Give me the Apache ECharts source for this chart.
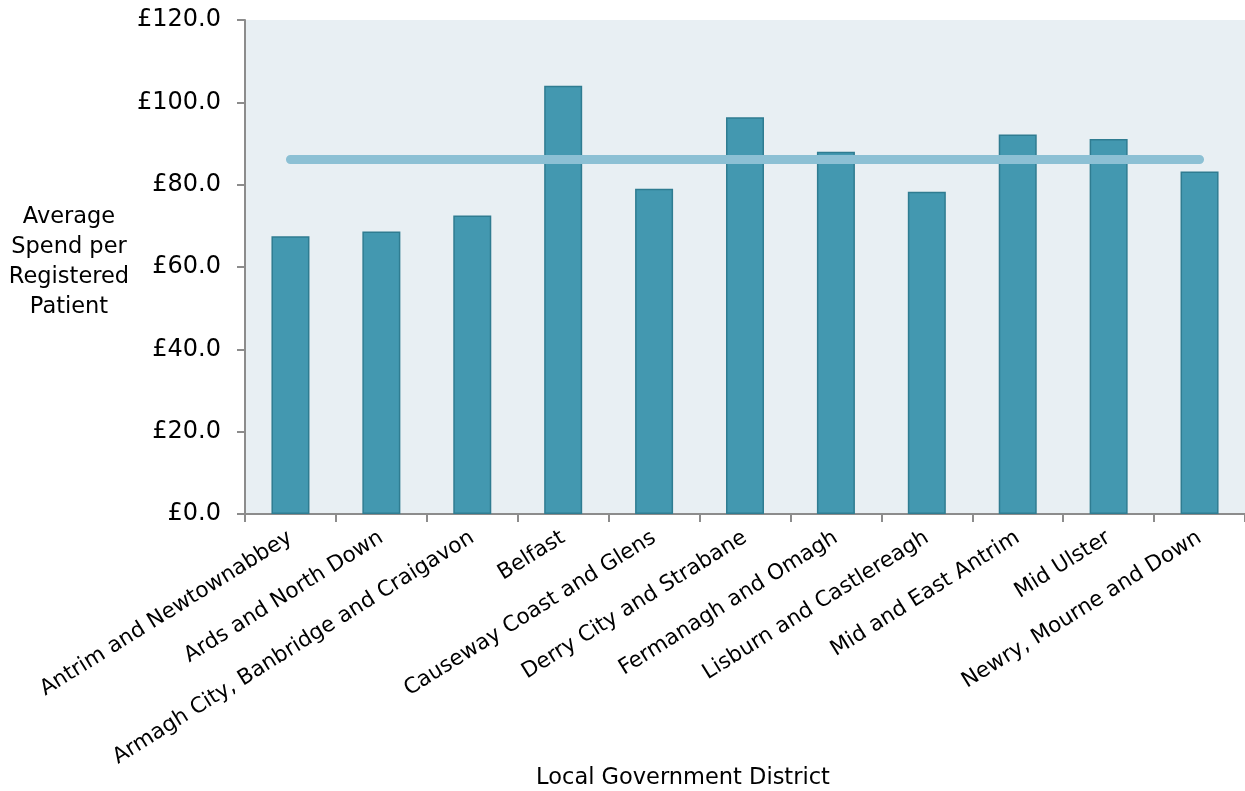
<!DOCTYPE html>
<html>
<head>
<meta charset="utf-8">
<script src="https://cdn.jsdelivr.net/npm/echarts@6/dist/echarts.min.js"></script>
<style>
  html, body { margin: 0; padding: 0; background: #ffffff; }
  #chart { width: 1245px; height: 791px; }
</style>
</head>
<body>
<div id="chart"></div>
<script>
// Local Government Districts and their average spend per registered patient (£)
const districts = [
  'Antrim and Newtownabbey',
  'Ards and North Down',
  'Armagh City, Banbridge and Craigavon',
  'Belfast',
  'Causeway Coast and Glens',
  'Derry City and Strabane',
  'Fermanagh and Omagh',
  'Lisburn and Castlereagh',
  'Mid and East Antrim',
  'Mid Ulster',
  'Newry, Mourne and Down'
];
const spendPerPatient = [67.5, 68.6, 72.5, 104.0, 79.0, 96.4, 88.0, 78.3, 92.2, 91.1, 83.2];
// Northern Ireland average, drawn as a flat reference line
const niAverage = [86.1, 86.1, 86.1, 86.1, 86.1, 86.1, 86.1, 86.1, 86.1, 86.1, 86.1];
const yTicks = { min: 0, max: 120, interval: 20 };

const FONT = '"DejaVu Sans"';
const chart = echarts.init(document.getElementById('chart'), null, { renderer: 'canvas' });

chart.setOption({
  animation: false,
  textStyle: { fontFamily: FONT, color: '#000' },
  grid: {
    left: 245, right: 0, top: 20, bottom: 277,
    show: true, backgroundColor: '#E8EFF3', borderWidth: 0
  },
  xAxis: {
    type: 'category',
    data: districts,
    axisLine: { lineStyle: { color: '#8C8C8C', width: 2 } },
    axisTick: { show: true, length: 8, alignWithLabel: false, lineStyle: { color: '#8C8C8C', width: 2 } },
    axisLabel: {
      interval: 0, rotate: 32, margin: 22,
      fontFamily: FONT, fontSize: 21.5, color: '#000'
    }
  },
  yAxis: {
    type: 'value',
    min: yTicks.min, max: yTicks.max, interval: yTicks.interval,
    splitLine: { show: false },
    axisLine: { show: true, lineStyle: { color: '#8C8C8C', width: 2 } },
    axisTick: { show: true, length: 8, lineStyle: { color: '#8C8C8C', width: 2 } },
    axisLabel: {
      margin: 24, fontFamily: FONT, fontSize: 24, color: '#000',
      formatter: v => '£' + v.toFixed(1)
    }
  },
  series: [
    {
      type: 'bar',
      data: spendPerPatient,
      barWidth: 38,
      itemStyle: { color: '#4398B0', borderColor: '#2F7C91', borderWidth: 1.5 },
      z: 2
    },
    {
      type: 'line',
      data: niAverage,
      symbol: 'none',
      lineStyle: { color: '#8CC0D4', width: 9, cap: 'round' },
      z: 3
    }
  ],
  graphic: [
    {
      type: 'text',
      style: {
        text: 'Average\nSpend per\nRegistered\nPatient',
        x: 69, y: 262, align: 'center', verticalAlign: 'middle',
        fontFamily: FONT, fontSize: 22.5, lineHeight: 30, fill: '#000'
      }
    },
    {
      type: 'text',
      style: {
        text: 'Local Government District',
        x: 683, y: 778, align: 'center', verticalAlign: 'middle',
        fontFamily: FONT, fontSize: 22.5, fill: '#000'
      }
    }
  ]
});
</script>
</body>
</html>
